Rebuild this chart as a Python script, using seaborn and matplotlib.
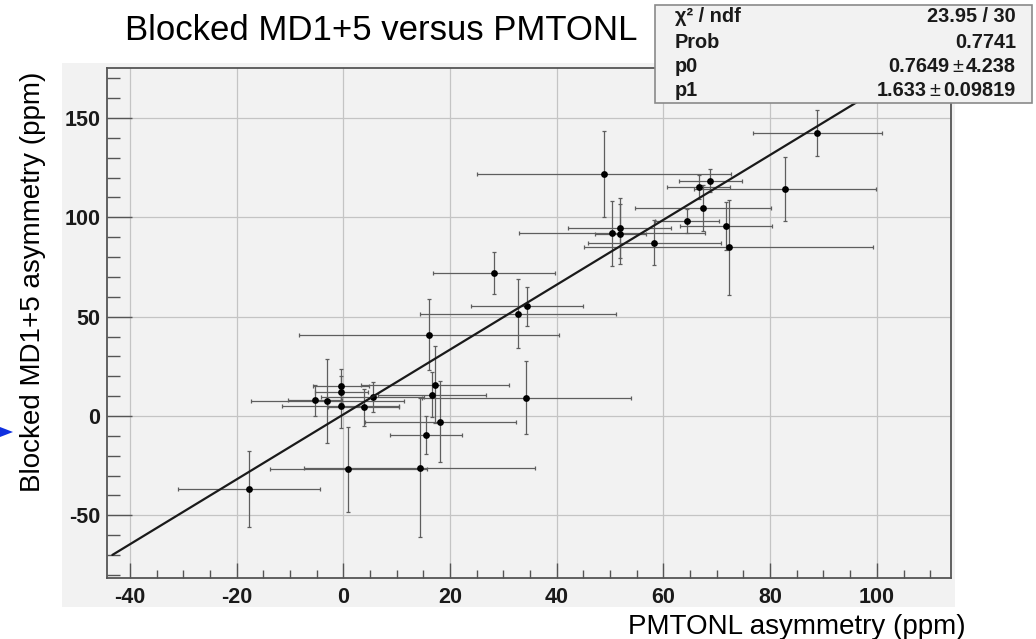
import numpy as np
import matplotlib
matplotlib.use("Agg")
import matplotlib.pyplot as plt
from matplotlib.patches import Rectangle, Polygon
import seaborn as sns

# ---- data ----
pmtonl = [-17.7, 0.9, 14.3, 15.5, 18.2, 34.3, 16.0, 32.7, 34.4, 28.2, 48.8,
          -5.3, -3.0, -0.4, -0.4, -0.5, 3.8, 5.5, 16.6, 17.2,
          88.8, 82.8, 68.8, 66.6, 67.4, 64.4, 71.7, 72.2, 58.3, 50.4, 51.8, 51.9]
pmtonl_err = [13.3, 14.7, 21.7, 6.8, 14.2, 19.6, 24.4, 18.4, 10.5, 11.4, 23.8,
              5.0, 14.3, 5.2, 5.0, 11.0, 6.7, 9.7, 10.1, 13.9,
              12.1, 17.0, 5.9, 5.9, 12.7, 6.0, 8.6, 27.0, 12.4, 17.4, 9.6, 4.8]
md15 = [-36.7, -26.8, -26.0, -9.6, -2.9, 9.2, 40.9, 51.4, 55.2, 72.1, 121.8,
        7.9, 7.5, 15.0, 11.9, 4.8, 4.3, 9.4, 10.6, 15.8,
        142.6, 114.2, 118.5, 115.1, 104.8, 98.2, 95.6, 84.9, 87.3, 91.9, 94.5, 91.7]
md15_err = [19.1, 21.4, 34.8, 9.4, 20.4, 18.5, 18.0, 17.4, 9.7, 10.6, 21.8,
            7.8, 21.1, 8.4, 8.0, 11.0, 9.5, 7.5, 11.3, 19.3,
            11.6, 16.0, 5.7, 6.0, 11.5, 5.9, 12.0, 24.0, 11.4, 16.4, 15.2, 15.0]

fit_p0 = 0.7649
fit_p1 = 1.633
fit_range = [-43.3, 113.0]

stat_labels = ["χ² / ndf", "Prob", "p0", "p1"]
stat_values = [("23.95 / 30",), ("0.7741",), ("0.7649", "4.238"), ("1.633", "0.09819")]

x_ticks = [-40, -20, 0, 20, 40, 60, 80, 100]
y_ticks = [-50, 0, 50, 100, 150]

title = "Blocked MD1+5 versus PMTONL"
xlabel = "PMTONL asymmetry (ppm)"
ylabel = "Blocked MD1+5 asymmetry (ppm)"

# ---- style ----
sns.set_theme(style="white")
plt.rcParams["font.family"] = ["Liberation Sans", "DejaVu Sans"]
plt.rcParams["axes.unicode_minus"] = False

W, H = 1036, 639
fig = plt.figure(figsize=(W / 100, H / 100), dpi=100)
fig.patch.set_facecolor("white")

def fx(px):
    return px / W

def fy(py):
    return 1 - py / H

PAD = "#f2f2f2"
# ROOT pad background
fig.patches.append(Rectangle((fx(62), fy(607)), fx(955) - fx(62), fy(63) - fy(607),
                             transform=fig.transFigure, facecolor=PAD,
                             edgecolor="none", zorder=-5))

ax = fig.add_axes([fx(107.3), fy(578.3), fx(951) - fx(107.3), fy(68.3) - fy(578.3)])
ax.set_facecolor(PAD)

ax.errorbar(pmtonl, md15, xerr=pmtonl_err, yerr=md15_err, fmt="none",
            ecolor="#5e5e5e", elinewidth=0.9, capsize=1.2, capthick=0.9, zorder=3)
sns.scatterplot(x=pmtonl, y=md15, ax=ax, color="black", s=24, linewidth=0, zorder=4)

xl = np.array(fit_range)
sns.lineplot(x=xl, y=fit_p0 + fit_p1 * xl, ax=ax, color="#1a1a1a", linewidth=1.6, zorder=5)

ax.set_xlim(-44.25, 113.9)
ax.set_ylim(-81.7, 175)
ax.set_xticks(x_ticks)
ax.set_yticks(y_ticks)
ax.set_xticks(np.arange(-40, 114, 5), minor=True)
ax.set_yticks(np.arange(-80, 175, 10), minor=True)
ax.grid(True, which="major", color="#c4c4c4", linewidth=0.9)
ax.set_axisbelow(True)
ax.tick_params(axis="both", which="both", direction="in", bottom=True, left=True,
               top=False, right=False, colors="#555555", labelcolor="#1a1a1a")
ax.tick_params(axis="x", which="major", length=11, width=1.0, pad=6, labelsize=15.5)
ax.tick_params(axis="x", which="minor", length=6, width=1.0)
ax.tick_params(axis="y", which="major", length=18, width=1.0, pad=5, labelsize=15.5)
ax.tick_params(axis="y", which="minor", length=9.5, width=1.0)
for lab in ax.get_xticklabels() + ax.get_yticklabels():
    lab.set_fontweight("bold")
for sp in ax.spines.values():
    sp.set_color("#555555")
    sp.set_linewidth(1.3)
ax.set_xlabel("")
ax.set_ylabel("")

# titles
fig.text(fx(125), fy(40), title, fontsize=25, ha="left", va="baseline", color="black")
fig.text(fx(966), fy(627), xlabel, fontsize=20, ha="right", va="center", color="black")
fig.text(fx(33), fy(282), ylabel, fontsize=20, rotation=90, ha="center", va="center",
         color="black")

# stats box
fig.patches.append(Rectangle((fx(655), fy(103)), fx(1032) - fx(655), fy(5) - fy(103),
                             transform=fig.transFigure, facecolor=PAD,
                             edgecolor="#8a8a8a", linewidth=1.2, zorder=10))
row_y = [17, 43, 67, 90]
FS = 14.3
for lab, val, ry in zip(stat_labels, stat_values, row_y):
    fig.text(fx(675), fy(ry), lab, fontsize=FS, fontweight="bold", ha="left",
             va="center", color="#1a1a1a", zorder=11)
    if len(val) == 1:
        fig.text(fx(1016), fy(ry), val[0], fontsize=FS, fontweight="bold", ha="right",
                 va="center", color="#1a1a1a", zorder=11)
    else:
        t_err = fig.text(fx(1016), fy(ry), val[1], fontsize=FS, fontweight="bold",
                         ha="right", va="center", color="#1a1a1a", zorder=11)
        fig.canvas.draw()
        bb = t_err.get_window_extent()
        x_pm = bb.x0 - 3
        t_pm = fig.text(x_pm / W, fy(ry), "±", fontsize=FS, fontweight="normal",
                        ha="right", va="center", color="#1a1a1a", zorder=11)
        fig.canvas.draw()
        bb2 = t_pm.get_window_extent()
        fig.text((bb2.x0 - 3) / W, fy(ry), val[0], fontsize=FS, fontweight="bold",
                 ha="right", va="center", color="#1a1a1a", zorder=11)

# small blue arrow marker on the left edge
fig.patches.append(Polygon([[fx(0), fy(427)], [fx(13), fy(432)], [fx(0), fy(437)]],
                           closed=True, transform=fig.transFigure,
                           facecolor="#1030e0", edgecolor="none", zorder=10))

fig.savefig("out.png", dpi=100, facecolor="white")
